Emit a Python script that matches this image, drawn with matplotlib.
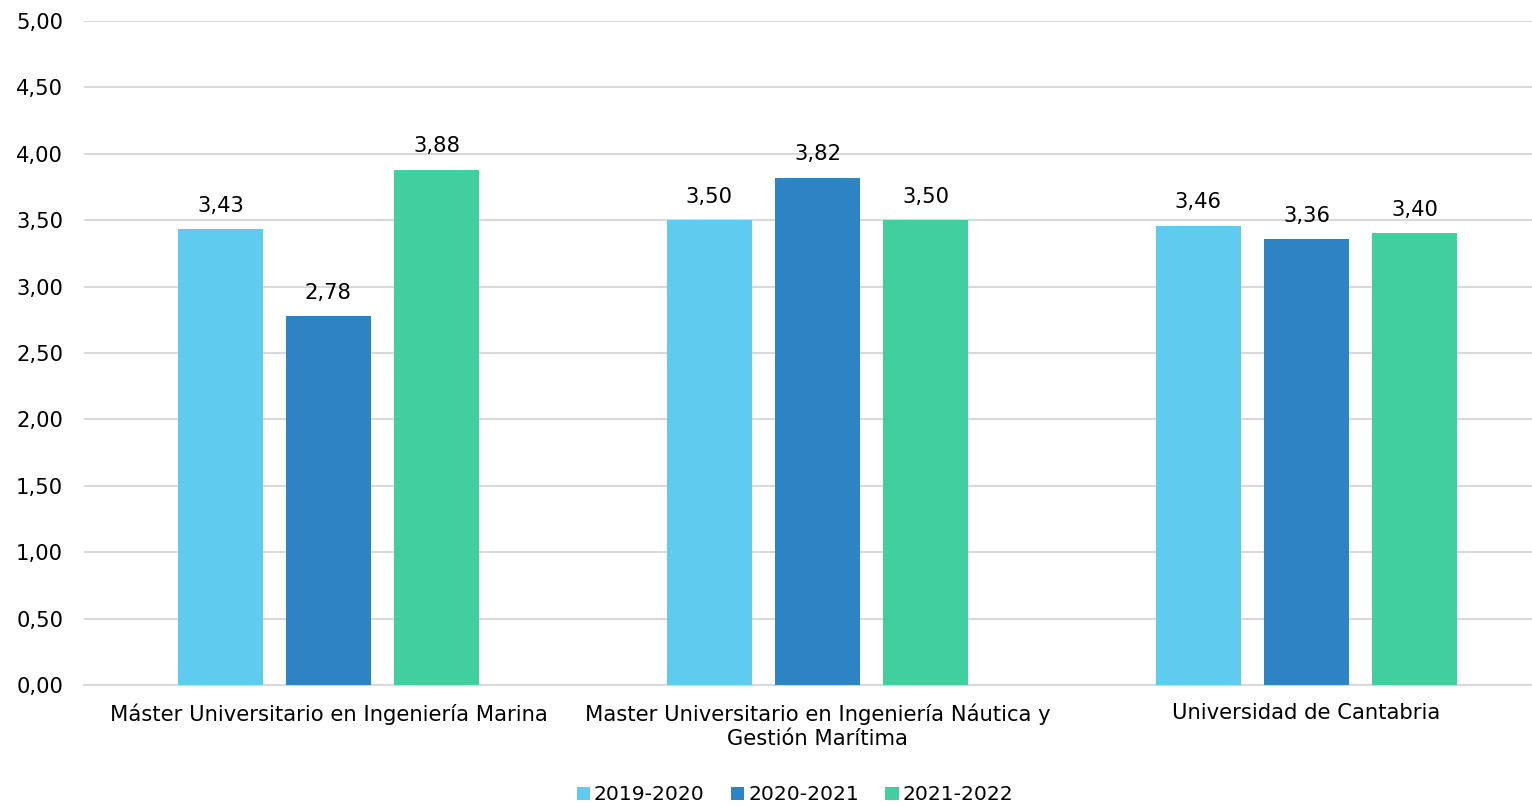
import matplotlib
matplotlib.use("Agg")
import matplotlib.pyplot as plt
import numpy as np

categories = ["Máster Universitario en Ingeniería Marina",
              "Master Universitario en Ingeniería Náutica y\nGestión Marítima",
              "Universidad de Cantabria"]
series_names = ["2019-2020", "2020-2021", "2021-2022"]
values_2019 = [3.43, 3.50, 3.46]
values_2020 = [2.78, 3.82, 3.36]
values_2021 = [3.88, 3.50, 3.40]
colors = ["#5FCBEF", "#2E83C4", "#41CFA0"]
yticks = [0, 0.5, 1, 1.5, 2, 2.5, 3, 3.5, 4, 4.5, 5]

plt.rcParams['font.family'] = ['DejaVu Sans']
W, H = 1532, 806
fig = plt.figure(figsize=(W/100, H/100), dpi=100)
ax = fig.add_axes([84/W, 1-685/H, (1532-84)/W, (685-21)/H])

FS = 15.2
x = np.arange(len(categories))
bw = 0.174
off = 0.221
for i, (vals, name, c) in enumerate(zip([values_2019, values_2020, values_2021], series_names, colors)):
    bars = ax.bar(x + (i-1)*off, vals, bw, color=c, label=name, zorder=3)
    for b, v in zip(bars, vals):
        ax.text(b.get_x()+b.get_width()/2, v + 0.1, f"{v:.2f}".replace(".", ","),
                ha="center", va="bottom", fontsize=FS, color="#000000")

ax.set_ylim(0, 5)
ax.set_xlim(-0.5, (1532-84)/489 - 0.5)
ax.set_yticks(yticks)
ax.set_yticklabels([f"{t:.2f}".replace(".", ",") for t in yticks], fontsize=FS)
ax.set_xticks(x)
ax.set_xticklabels(categories, fontsize=FS, linespacing=1.25)
ax.tick_params(axis="both", length=0, colors="#000000")
ax.tick_params(axis="y", pad=15)
ax.tick_params(axis="x", pad=13)
ax.grid(axis="y", color="#D9D9D9", linewidth=1.5, zorder=0)
for s in ["top", "right", "left"]:
    ax.spines[s].set_visible(False)
ax.spines["bottom"].set_color("#D9D9D9")
ax.spines["bottom"].set_linewidth(1.5)

fig.legend(loc="center", bbox_to_anchor=(795/W, 1-795/H), ncol=3, frameon=False,
           fontsize=14.6, handlelength=0.65, handleheight=0.65, handletextpad=0.2, columnspacing=1.3)

fig.savefig("out.png", dpi=100)
